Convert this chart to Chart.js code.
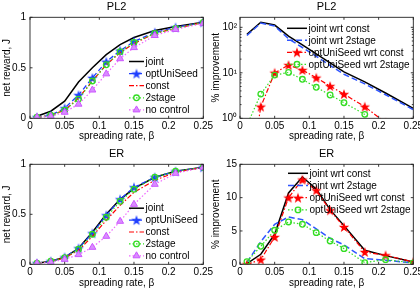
<!DOCTYPE html>
<html>
<head>
<meta charset="utf-8">
<script src="https://cdn.jsdelivr.net/npm/chart.js@4.4.0/dist/chart.umd.min.js"></script>
<style>
  html, body { margin: 0; padding: 0; background: #fff; overflow: hidden; width: 420px; height: 294px; }
  canvas { position: absolute; }
</style>
</head>
<body>
<canvas id="pl2Reward" width="230" height="147" style="left:0;top:0"></canvas>
<canvas id="pl2Impr" width="230" height="147" style="left:210px;top:0"></canvas>
<canvas id="erReward" width="230" height="147" style="left:0;top:147px"></canvas>
<canvas id="erImpr" width="230" height="147" style="left:210px;top:147px"></canvas>
<script>
// spreading rate values (x) and tick labels
var beta = [0.01, 0.03, 0.05, 0.07, 0.09, 0.11, 0.13, 0.15, 0.18, 0.21, 0.25];
var xTicks = [0, 0.05, 0.1, 0.15, 0.2, 0.25];
var xTickLabels = ['0', '0.05', '0.1', '0.15', '0.2', '0.25'];
var rewardTicks = [0, 0.5, 1];
var rewardTickLabels = ['0', '0.5', '1'];
var logTicks = [1, 10, 100];
var logTickLabels = ['10\u2070', '10\u00b9', '10\u00b2'];
var erImprTicks = [0, 5, 10, 15];
var erImprTickLabels = ['0', '5', '10', '15'];

// PL2 - net reward
var pl2Joint     = [0.02, 0.07, 0.17, 0.36, 0.50, 0.63, 0.73, 0.80, 0.87, 0.91, 0.95];
var pl2Opt       = [0.01, 0.03, 0.10, 0.23, 0.40, 0.56, 0.67, 0.76, 0.85, 0.90, 0.95];
var pl2Const     = [0.01, 0.03, 0.08, 0.20, 0.37, 0.53, 0.65, 0.74, 0.84, 0.89, 0.95];
var pl2TwoStage  = [0.01, 0.03, 0.08, 0.19, 0.37, 0.53, 0.66, 0.75, 0.84, 0.89, 0.95];
var pl2NoCtrl    = [0.01, 0.02, 0.06, 0.14, 0.28, 0.44, 0.59, 0.70, 0.82, 0.88, 0.94];

// PL2 - % improvement (log)
var pl2JointWrtConst  = [70, 129, 112, 64, 41, 26, 16.5, 10.5, 6.3, 3.6, 1.66];
var pl2JointWrt2stage = [66, 124, 107, 56, 36, 23, 14.5, 9.3, 5.7, 3.3, 1.55];
var pl2OptWrtConst    = [0.02, 1.8, 10, 14.8, 11.5, 7.8, 5.1, 3.4, 1.8, 0.8, 0.3];
var pl2OptWrt2stage   = [0.7, 3.4, 8.9, 10.2, 7.2, 4.8, 3.25, 2.2, 1.22, 0.4, 0.2];

// ER - net reward
var erJoint    = [0.01, 0.03, 0.07, 0.16, 0.32, 0.50, 0.65, 0.76, 0.87, 0.93, 0.97];
var erOpt      = [0.01, 0.03, 0.07, 0.16, 0.31, 0.49, 0.65, 0.77, 0.87, 0.93, 0.97];
var erConst    = [0.01, 0.03, 0.065, 0.14, 0.28, 0.44, 0.59, 0.72, 0.84, 0.92, 0.97];
var erTwoStage = [0.01, 0.03, 0.066, 0.15, 0.30, 0.47, 0.63, 0.75, 0.87, 0.93, 0.97];
var erNoCtrl   = [0.01, 0.02, 0.05, 0.097, 0.17, 0.28, 0.43, 0.60, 0.80, 0.91, 0.97];

// ER - % improvement
var erJointWrtConst  = [0.1, 1.5, 4.5, 10.7, 13.1, 11.3, 8.2, 5.8, 2.1, 1.3, 0.35];
var erJointWrt2stage = [0.3, 3.4, 6.0, 7.1, 6.7, 5.3, 3.9, 2.9, 0.85, 0.6, 0.2];
var erOptWrtConst    = [0, 0.7, 4.1, 10.0, 12.7, 11.1, 8.1, 5.6, 1.85, 1.35, 0.35];
var erOptWrt2stage   = [0.4, 2.7, 5.1, 6.35, 6.0, 4.75, 3.5, 2.35, 0.25, 0.7, 0.2];

Chart.defaults.font.family = '"Liberation Sans", Arial, Helvetica, sans-serif';
Chart.defaults.font.size = 10;
Chart.defaults.color = '#000';

function pentagram(color) {
  var c = document.createElement('canvas');
  c.width = 12; c.height = 12;
  var g = c.getContext('2d');
  g.fillStyle = color;
  g.beginPath();
  for (var k = 0; k < 10; k++) {
    var r = k % 2 === 0 ? 5.5 : 2.2;
    var a = -Math.PI / 2 + k * Math.PI / 5;
    var px = 6 + r * Math.cos(a), py = 6.5 + r * Math.sin(a);
    if (k === 0) g.moveTo(px, py); else g.lineTo(px, py);
  }
  g.closePath();
  g.fill();
  return c;
}
var blueStar = pentagram('#1f3fff');
var redStar = pentagram('#ff0000');

var stJoint = {borderColor: '#000', borderWidth: 1.5, pointRadius: 0};
var stJoint2 = {borderColor: '#2f55ff', borderWidth: 1.5, borderDash: [6, 3], pointRadius: 0};
var stOpt = {borderColor: '#1f3fff', borderWidth: 1.3, borderDash: [5, 3], pointStyle: blueStar, pointRadius: 5};
var stConst = {borderColor: '#ff0000', borderWidth: 1.2, borderDash: [5, 2, 1.5, 2], pointRadius: 0};
var stOptRed = {borderColor: '#ff0000', borderWidth: 1.2, borderDash: [5, 2, 1.5, 2], pointStyle: redStar, pointRadius: 5};
var stTwo = {borderColor: '#33dd22', borderWidth: 1.2, borderDash: [1.5, 2], pointStyle: 'circle', pointRadius: 2.8,
  pointBorderColor: '#33dd22', pointBackgroundColor: 'rgba(0,0,0,0)', pointBorderWidth: 1.3};
var stNo = {borderColor: '#ee66ff', borderWidth: 1.2, borderDash: [1.5, 2], pointStyle: 'triangle', pointRadius: 4,
  pointBorderColor: '#cc55ff', pointBackgroundColor: '#d98cff', pointBorderWidth: 1};

function series(label, vals, st, i) {
  var ds = {
    label: label,
    data: beta.map(function (b, k) { return {x: b, y: vals[k]}; }),
    tension: 0, fill: false, order: -i, pointHoverRadius: 0
  };
  for (var key in st) ds[key] = st[key];
  if (ds.pointBorderColor === undefined) ds.pointBorderColor = ds.borderColor;
  if (ds.pointBackgroundColor === undefined) ds.pointBackgroundColor = ds.borderColor;
  return ds;
}

function drawMarker(ctx, ds, x, y) {
  var st = ds.pointStyle;
  if (st && st.getContext) {
    ctx.drawImage(st, x - st.width / 2, y - st.height / 2);
    return;
  }
  var r = ds.pointRadius;
  ctx.save();
  ctx.setLineDash([]);
  ctx.lineWidth = ds.pointBorderWidth;
  ctx.strokeStyle = ds.pointBorderColor;
  ctx.fillStyle = ds.pointBackgroundColor;
  ctx.beginPath();
  if (st === 'triangle') {
    var rad = 0;
    for (var k = 0; k < 3; k++) {
      var px = x + Math.sin(rad) * r, py = y - Math.cos(rad) * r;
      if (k === 0) ctx.moveTo(px, py); else ctx.lineTo(px, py);
      rad += Math.PI * 2 / 3;
    }
    ctx.closePath();
  } else {
    ctx.arc(x, y, r, 0, Math.PI * 2);
  }
  ctx.fill();
  ctx.stroke();
  ctx.restore();
}

// axes box, inward ticks, title and legend drawn like the original figure
var matFrame = {
  id: 'matFrame',
  afterDraw: function (chart, args, o) {
    var ctx = chart.ctx, a = chart.chartArea;
    var xs = chart.scales.x, ys = chart.scales.y;
    ctx.save();
    ctx.strokeStyle = '#222';
    ctx.lineWidth = 0.9;
    ctx.strokeRect(a.left, a.top, a.right - a.left, a.bottom - a.top);
    ctx.beginPath();
    xs.ticks.forEach(function (t) {
      var px = xs.getPixelForValue(t.value);
      ctx.moveTo(px, a.bottom); ctx.lineTo(px, a.bottom - 2.5);
      ctx.moveTo(px, a.top); ctx.lineTo(px, a.top + 2.5);
    });
    ys.ticks.forEach(function (t) {
      var py = ys.getPixelForValue(t.value);
      ctx.moveTo(a.left, py); ctx.lineTo(a.left + 2.5, py);
      ctx.moveTo(a.right, py); ctx.lineTo(a.right - 2.5, py);
    });
    if (ys.type === 'logarithmic') {
      for (var d = 1; d <= ys.max; d *= 10) {
        for (var m = 2; m < 10; m++) {
          if (m * d > ys.max) break;
          var py = ys.getPixelForValue(m * d);
          ctx.moveTo(a.left, py); ctx.lineTo(a.left + 1.5, py);
          ctx.moveTo(a.right, py); ctx.lineTo(a.right - 1.5, py);
        }
      }
    }
    ctx.stroke();

    ctx.fillStyle = '#000';
    ctx.font = '11px "Liberation Sans", Arial, sans-serif';
    ctx.textAlign = 'center';
    ctx.textBaseline = 'middle';
    ctx.fillText(o.title, (a.left + a.right) / 2, o.titleY);

    var L = o.legend;
    ctx.font = '10px "Liberation Sans", Arial, sans-serif';
    ctx.textAlign = 'left';
    chart.data.datasets.forEach(function (ds, i) {
      var y = L.y + i * L.row;
      ctx.save();
      ctx.strokeStyle = ds.borderColor;
      ctx.lineWidth = ds.borderWidth;
      ctx.setLineDash(ds.borderDash || []);
      ctx.beginPath();
      ctx.moveTo(L.x, y);
      ctx.lineTo(L.x + L.len, y);
      ctx.stroke();
      ctx.restore();
      if (ds.pointRadius > 0) drawMarker(ctx, ds, L.x + L.len / 2, y);
      ctx.fillStyle = '#000';
      ctx.fillText(ds.label, L.x + L.len + 1.5, y + 0.5);
    });
    ctx.restore();
  }
};

function makeChart(id, datasets, yOpts, frame, xHeight) {
  var yAxis = {
    type: yOpts.type, min: yOpts.min, max: yOpts.max,
    afterBuildTicks: function (s) { s.ticks = yOpts.ticks.map(function (v) { return {value: v}; }); },
    ticks: {callback: function (v, i) { return yOpts.labels[i]; }, padding: yOpts.pad, autoSkip: false},
    grid: {display: false, drawTicks: false},
    border: {display: false},
    title: {display: true, text: yOpts.title, font: {size: 10}, padding: {top: yOpts.titlePad, bottom: 0}},
    afterFit: function (s) { s.width = 30; }
  };
  var xAxis = {
    type: 'linear', min: 0, max: 0.25,
    afterBuildTicks: function (s) { s.ticks = xTicks.map(function (v) { return {value: v}; }); },
    ticks: {callback: function (v, i) { return xTickLabels[i]; }, padding: 2, maxRotation: 0, autoSkip: false},
    grid: {display: false, drawTicks: false},
    border: {display: false},
    title: {display: true, text: 'spreading rate, \u03b2', font: {size: 10}, padding: {top: 0, bottom: 5}},
    afterFit: function (s) { s.height = xHeight; }
  };
  return new Chart(document.getElementById(id), {
    type: 'line',
    data: {datasets: datasets},
    options: {
      responsive: false,
      animation: false,
      layout: {padding: {top: 17.3, right: 26.7, left: 0, bottom: 0}},
      scales: {x: xAxis, y: yAxis},
      plugins: {legend: {display: false}, tooltip: {enabled: false}, title: {display: false}, matFrame: frame}
    },
    plugins: [matFrame]
  });
}

var rewardLabels = ['joint', 'optUniSeed', 'const', '2stage', 'no control'];
var imprLabels = ['joint wrt const', 'joint wrt 2stage', 'optUniSeed wrt const', 'optUniSeed wrt 2stage'];

makeChart('pl2Reward', [
  series(rewardLabels[0], pl2Joint, stJoint, 0),
  series(rewardLabels[1], pl2Opt, stOpt, 1),
  series(rewardLabels[2], pl2Const, stConst, 2),
  series(rewardLabels[3], pl2TwoStage, stTwo, 3),
  series(rewardLabels[4], pl2NoCtrl, stNo, 4)
], {type: 'linear', min: 0, max: 1, ticks: rewardTicks, labels: rewardTickLabels, pad: 4, title: 'net reward, J', titlePad: 1.5},
  {title: 'PL2', titleY: 7, legend: {x: 129, y: 61.5, row: 12.1, len: 15}}, 28.7);

makeChart('pl2Impr', [
  series(imprLabels[0], pl2JointWrtConst, stJoint, 0),
  series(imprLabels[1], pl2JointWrt2stage, stJoint2, 1),
  series(imprLabels[2], pl2OptWrtConst, stOptRed, 2),
  series(imprLabels[3], pl2OptWrt2stage, stTwo, 3)
], {type: 'logarithmic', min: 1, max: 166, ticks: logTicks, labels: logTickLabels, pad: 3, title: '% improvement', titlePad: 0},
  {title: 'PL2', titleY: 7, legend: {x: 77, y: 28.3, row: 12, len: 20}}, 28.7);

makeChart('erReward', [
  series(rewardLabels[0], erJoint, stJoint, 0),
  series(rewardLabels[1], erOpt, stOpt, 1),
  series(rewardLabels[2], erConst, stConst, 2),
  series(rewardLabels[3], erTwoStage, stTwo, 3),
  series(rewardLabels[4], erNoCtrl, stNo, 4)
], {type: 'linear', min: 0, max: 1, ticks: rewardTicks, labels: rewardTickLabels, pad: 4, title: 'net reward, J', titlePad: 1.5},
  {title: 'ER', titleY: 6.5, legend: {x: 129, y: 61.2, row: 11.9, len: 15}}, 29.7);

makeChart('erImpr', [
  series(imprLabels[0], erJointWrtConst, stJoint, 0),
  series(imprLabels[1], erJointWrt2stage, stJoint2, 1),
  series(imprLabels[2], erOptWrtConst, stOptRed, 2),
  series(imprLabels[3], erOptWrt2stage, stTwo, 3)
], {type: 'linear', min: 0, max: 15, ticks: erImprTicks, labels: erImprTickLabels, pad: 3, title: '% improvement', titlePad: 0},
  {title: 'ER', titleY: 6.5, legend: {x: 78, y: 26.3, row: 12.2, len: 20}}, 29.7);
</script>
</body>
</html>
